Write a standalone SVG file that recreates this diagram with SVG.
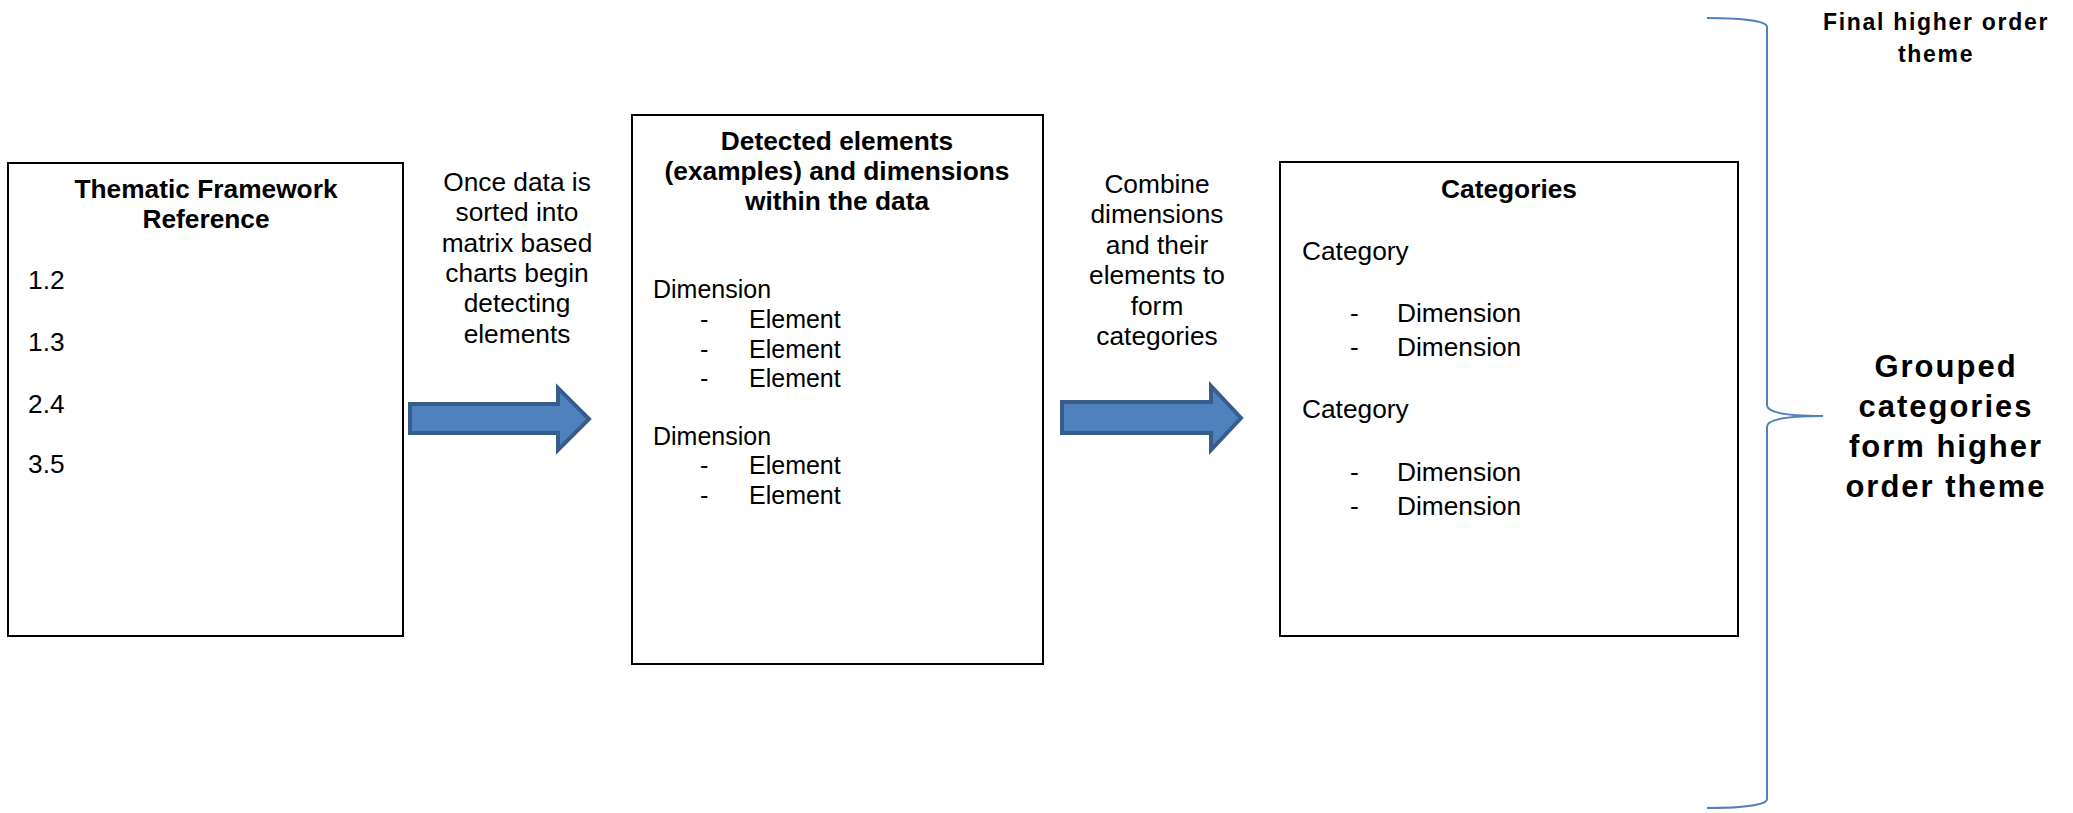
<svg xmlns="http://www.w3.org/2000/svg" width="2073" height="813" viewBox="0 0 2073 813">
  <style>
    .box { fill: #ffffff; stroke: #000000; stroke-width: 2; }
    .t { font-family: "Liberation Sans", Arial, sans-serif; font-size: 26.3px; fill: #000000; }
    .sm { font-size: 25px; }
    .b { font-weight: bold; }
    .c { text-anchor: middle; }
    .arrow { fill: #4F81BD; stroke: #385D8A; stroke-width: 4; stroke-linejoin: miter; }
    .brace { fill: none; stroke: #4F81BD; stroke-width: 2; }
  </style>
  <rect width="2073" height="813" fill="#ffffff"/>

  <!-- Stage 1: framework references -->
  <g id="framework">
    <rect class="box" x="8" y="163" width="395" height="473"/>
    <text class="t b c" x="206" y="198">Thematic Framework</text>
    <text class="t b c" x="206" y="228">Reference</text>
    <text class="t" x="28" y="289">1.2</text>
    <text class="t" x="28" y="351">1.3</text>
    <text class="t" x="28" y="413">2.4</text>
    <text class="t" x="28" y="473">3.5</text>
  </g>

  <!-- Stage 2: detected elements and dimensions -->
  <g id="elements">
    <rect class="box" x="632" y="115" width="411" height="549"/>
    <text class="t b c" x="837" y="150">Detected elements</text>
    <text class="t b c" x="837" y="180">(examples) and dimensions</text>
    <text class="t b c" x="837" y="210">within the data</text>
    <text class="t sm" x="653" y="298">Dimension</text>
    <text class="t sm" x="700" y="328">-</text><text class="t sm" x="749" y="328">Element</text>
    <text class="t sm" x="700" y="358">-</text><text class="t sm" x="749" y="358">Element</text>
    <text class="t sm" x="700" y="387">-</text><text class="t sm" x="749" y="387">Element</text>
    <text class="t sm" x="653" y="445">Dimension</text>
    <text class="t sm" x="700" y="474">-</text><text class="t sm" x="749" y="474">Element</text>
    <text class="t sm" x="700" y="504">-</text><text class="t sm" x="749" y="504">Element</text>
  </g>

  <!-- Stage 3: categories -->
  <g id="categories">
    <rect class="box" x="1280" y="162" width="458" height="474"/>
    <text class="t b c" x="1509" y="198">Categories</text>
    <text class="t" x="1302" y="260">Category</text>
    <text class="t" x="1350" y="322">-</text><text class="t" x="1397" y="322">Dimension</text>
    <text class="t" x="1350" y="356">-</text><text class="t" x="1397" y="356">Dimension</text>
    <text class="t" x="1302" y="418">Category</text>
    <text class="t" x="1350" y="481">-</text><text class="t" x="1397" y="481">Dimension</text>
    <text class="t" x="1350" y="515">-</text><text class="t" x="1397" y="515">Dimension</text>
  </g>

  <!-- Final theme labels -->
  <g id="final-theme">
    <text class="t b c" x="1936" y="30" style="font-size:23px;letter-spacing:1.7px">Final higher order</text>
    <text class="t b c" x="1936" y="62" style="font-size:23px;letter-spacing:1.7px">theme</text>
  </g>
  <g id="grouped-theme">
    <text class="t b c" x="1946" y="377" style="font-size:31px;letter-spacing:2px">Grouped</text>
    <text class="t b c" x="1946" y="417" style="font-size:31px;letter-spacing:2px">categories</text>
    <text class="t b c" x="1946" y="457" style="font-size:31px;letter-spacing:2px">form higher</text>
    <text class="t b c" x="1946" y="497" style="font-size:31px;letter-spacing:2px">order theme</text>
  </g>

  <!-- Connectors: block arrows with captions, and the grouping brace -->
  <g id="connectors">
    <g id="step1">
      <text class="t c" x="517" y="191">Once data is</text>
      <text class="t c" x="517" y="221">sorted into</text>
      <text class="t c" x="517" y="252">matrix based</text>
      <text class="t c" x="517" y="282">charts begin</text>
      <text class="t c" x="517" y="312">detecting</text>
      <text class="t c" x="517" y="343">elements</text>
      <path class="arrow" d="M410,404 H558 V388 L589,419 L558,450 V433 H410 Z"/>
    </g>
    <g id="step2">
      <text class="t c" x="1157" y="193">Combine</text>
      <text class="t c" x="1157" y="223">dimensions</text>
      <text class="t c" x="1157" y="254">and their</text>
      <text class="t c" x="1157" y="284">elements to</text>
      <text class="t c" x="1157" y="315">form</text>
      <text class="t c" x="1157" y="345">categories</text>
      <path class="arrow" d="M1062,402 H1211 V386 L1241,418 L1211,450 V433 H1062 Z"/>
    </g>
    <path class="brace" d="M1707,18 C1742,18 1767,21 1767,27 L1767,405 C1767,412 1782,416 1823,416 C1782,416 1767,420 1767,427 L1767,799 C1767,805 1742,808 1707,808"/>
  </g>
</svg>
